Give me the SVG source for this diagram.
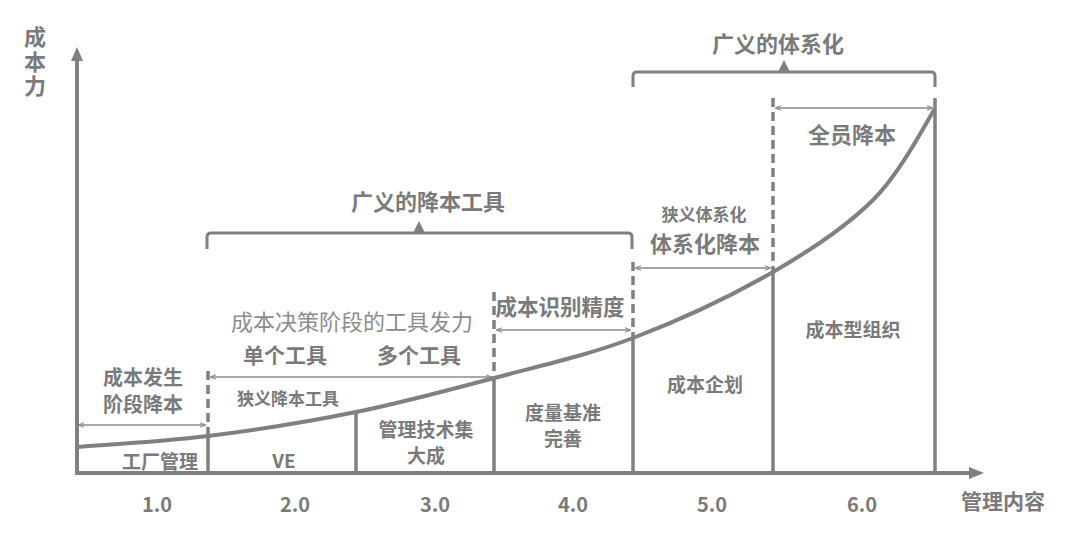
<svg xmlns="http://www.w3.org/2000/svg" width="1080" height="543" viewBox="0 0 1080 543">
<defs>
<style>
.t{font-family:"Noto Sans CJK SC","Liberation Sans",sans-serif;font-weight:bold;fill:#7a7a7a;text-anchor:middle;dominant-baseline:central}
.l{font-weight:normal;fill:#8c8c8c}
.ax{stroke:#808080;stroke-width:4;fill:none}
.v{stroke:#808080;stroke-width:3.5;fill:none}
.d{stroke:#808080;stroke-width:3.5;fill:none;stroke-dasharray:9 5}
.c{stroke:#808080;stroke-width:4;fill:none;stroke-linecap:round}
.br{stroke:#808080;stroke-width:3;fill:none}
.da{stroke:#8a8a8a;stroke-width:1.6;fill:none;marker-start:url(#ah);marker-end:url(#ah)}
</style>
<marker id="ah" viewBox="0 0 10 10" refX="9" refY="5" markerWidth="6" markerHeight="6" markerUnits="userSpaceOnUse" orient="auto-start-reverse">
<path d="M0,1 L10,5 L0,9" fill="none" stroke="#8a8a8a" stroke-width="1.8"/>
</marker>
</defs>
<rect width="1080" height="543" fill="#fff"/>
<g id="connectors">
<line class="ax" x1="77" y1="58" x2="77" y2="475"/>
<path d="M71,61 L77,47 L83,61 Z" fill="#808080"/>
<line class="ax" x1="75" y1="473" x2="970" y2="473"/>
<path d="M969,467 L984,473 L969,479 Z" fill="#808080"/>
<line class="v" x1="208" y1="435" x2="208" y2="473"/>
<line class="v" x1="356" y1="412" x2="356" y2="473"/>
<line class="v" x1="494" y1="378" x2="494" y2="473"/>
<line class="v" x1="633" y1="338" x2="633" y2="473"/>
<line class="v" x1="773" y1="272" x2="773" y2="473"/>
<line class="v" x1="935" y1="98" x2="935" y2="473"/>
<line class="d" x1="208" y1="371" x2="208" y2="435"/>
<line class="d" x1="494" y1="292" x2="494" y2="378"/>
<line class="d" x1="633" y1="262" x2="633" y2="338"/>
<line class="d" x1="773" y1="98" x2="773" y2="272"/>
<path class="c" d="M77,447 C98.8,445.2 161.5,441.8 208,436 C254.5,430.2 308.3,421.7 356,412 C403.7,402.3 447.8,390.3 494,378 C540.2,365.7 586.5,355.7 633,338 C679.5,320.3 733,295 773,272 C813,249 846.2,226.7 873,200 C899.8,173.3 923.8,126.7 934,110"/>
<line class="da" x1="79" y1="425" x2="205" y2="425"/>
<line class="da" x1="211" y1="377" x2="491" y2="377"/>
<line class="da" x1="497" y1="330" x2="630" y2="330"/>
<line class="da" x1="636" y1="268" x2="770" y2="268"/>
<line class="da" x1="776" y1="108" x2="932" y2="108"/>
<path class="br" d="M207,249 V237 Q207,233 211,233 H628 Q632,233 632,237 V249"/>
<path d="M413,233 L419,221 L425,233 Z" fill="#808080"/>
<path class="br" d="M633,87 V76 Q633,72 637,72 H931 Q935,72 935,76 V87"/>
<path d="M778,72 L784,60 L790,72 Z" fill="#808080"/>
</g>
<g id="axis-labels">
<text class="t" x="35" y="26" font-size="22" writing-mode="vertical-rl" letter-spacing="2.5" style="text-anchor:start">成本力</text>
<text class="t" x="1003" y="500" font-size="21">管理内容</text>
<text class="t" x="157" y="503" font-size="20">1.0</text>
<text class="t" x="295" y="503" font-size="20">2.0</text>
<text class="t" x="435" y="503" font-size="20">3.0</text>
<text class="t" x="573" y="503" font-size="20">4.0</text>
<text class="t" x="712" y="503" font-size="20">5.0</text>
<text class="t" x="862" y="503" font-size="20">6.0</text>
</g>
<g id="stage1">
<text class="t" x="160" y="460" font-size="19">工厂管理</text>
<text class="t" font-size="20"><tspan x="143" y="376">成本发生</tspan><tspan x="143" y="403">阶段降本</tspan></text>
</g>
<g id="stage2">
<text class="t" x="284" y="459" font-size="19">VE</text>
<text class="t" x="288" y="397" font-size="17">狭义降本工具</text>
<text class="t" x="285" y="354" font-size="21">单个工具</text>
</g>
<g id="stage3">
<text class="t" font-size="19"><tspan x="426" y="428">管理技术集</tspan><tspan x="426" y="454">大成</tspan></text>
<text class="t" x="419" y="354" font-size="21">多个工具</text>
<text class="t l" x="352" y="320" font-size="22">成本决策阶段的工具发力</text>
</g>
<g id="stage4">
<text class="t" font-size="19"><tspan x="563" y="411">度量基准</tspan><tspan x="563" y="437">完善</tspan></text>
<text class="t" x="560" y="305" font-size="21.5">成本识别精度</text>
</g>
<g id="stage5">
<text class="t" x="705" y="383" font-size="19">成本企划</text>
<text class="t" x="705" y="242" font-size="22">体系化降本</text>
<text class="t" x="704" y="213" font-size="17">狭义体系化</text>
</g>
<g id="stage6">
<text class="t" x="853" y="328" font-size="19">成本型组织</text>
<text class="t" x="852" y="133" font-size="22">全员降本</text>
</g>
<g id="groups">
<text class="t" x="428" y="200" font-size="22">广义的降本工具</text>
<text class="t" x="778" y="42" font-size="22">广义的体系化</text>
</g>
</svg>
